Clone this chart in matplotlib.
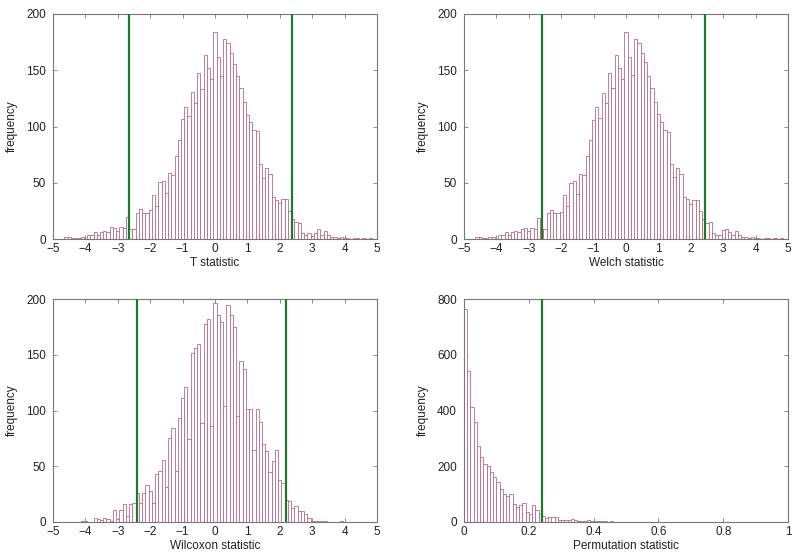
import numpy as np
import matplotlib
matplotlib.use("Agg")
import matplotlib.pyplot as plt

plt.rcParams['font.family'] = ['Liberation Sans', 'DejaVu Sans']

# ---------------- data ----------------
bin_width_stat = 0.1
t_first_center = -4.6
t_counts = [2, 2, 1, 1, 1, 2, 0, 4, 4, 6, 4, 6, 7, 6, 11, 10, 7, 11, 10, 20,
            9, 9, 23, 27, 23, 23, 26, 39, 29, 51, 52, 41, 59, 57, 74, 88, 107, 117, 109, 131,
            121, 148, 133, 164, 152, 142, 184, 162, 145, 178, 174, 165, 156, 145, 134, 122, 110, 104, 97, 96,
            67, 54, 63, 58, 37, 35, 32, 36, 36, 25, 18, 15, 14, 5, 4, 5, 3, 5, 9, 4,
            7, 4, 2, 2, 1, 2, 1, 1, 0, 1, 1, 0, 1, 0, 1]
t_cutoffs = [-2.64, 2.39]

welch_first_center = -4.6
welch_counts = [2, 2, 1, 1, 2, 2, 0, 4, 4, 6, 4, 6, 7, 6, 9, 10, 7, 10, 9, 19,
                9, 9, 23, 26, 23, 23, 24, 39, 29, 50, 52, 40, 58, 57, 74, 88, 106, 117, 108, 130,
                121, 148, 134, 164, 152, 142, 184, 162, 146, 178, 174, 165, 157, 145, 134, 122, 111, 104, 97, 95,
                67, 55, 63, 58, 37, 36, 31, 35, 35, 25, 18, 14, 15, 5, 4, 4, 8, 9, 6, 4,
                7, 4, 2, 2, 1, 2, 1, 1, 0, 1, 1, 0, 1, 0, 1]
welch_cutoffs = [-2.60, 2.43]

wil_first_center = -4.1
wil_counts = [1, 1, 0, 0, 4, 3, 2, 4, 3, 1, 11, 3, 11, 16, 5, 16, 17, 26, 17, 26,
              33, 28, 17, 43, 46, 56, 31, 75, 84, 46, 93, 111, 121, 74, 152, 156, 160, 89, 178, 182,
              86, 196, 186, 179, 104, 195, 186, 175, 95, 144, 137, 101, 101, 65, 101, 90, 70, 64, 45, 55,
              65, 38, 35, 20, 19, 13, 14, 10, 10, 7, 4, 1, 1, 1, 1, 1, 0, 0, 0, 0, 1]
wil_cutoffs = [-2.42, 2.18]

perm_bin_width = 0.01
perm_first_center = 0.005
perm_counts = [764, 543, 413, 358, 273, 233, 209, 202, 178, 161, 143, 118, 99, 94, 101, 65, 55, 60, 68, 37,
               30, 61, 42, 29, 22, 14, 18, 18, 18, 8, 8, 6, 7, 11, 7, 5, 2, 4, 6, 4,
               3, 2, 3, 2, 1, 2, 1, 1, 1, 1]
perm_cutoffs = [0.24]

panels = [
    dict(first=t_first_center, width=bin_width_stat, counts=t_counts, cut=t_cutoffs,
         xlabel='T statistic', xlim=(-5, 5), ylim=(0, 200),
         xticks=list(range(-5, 6)), yticks=[0, 50, 100, 150, 200]),
    dict(first=welch_first_center, width=bin_width_stat, counts=welch_counts, cut=welch_cutoffs,
         xlabel='Welch statistic', xlim=(-5, 5), ylim=(0, 200),
         xticks=list(range(-5, 6)), yticks=[0, 50, 100, 150, 200]),
    dict(first=wil_first_center, width=bin_width_stat, counts=wil_counts, cut=wil_cutoffs,
         xlabel='Wilcoxon statistic', xlim=(-5, 5), ylim=(0, 200),
         xticks=list(range(-5, 6)), yticks=[0, 50, 100, 150, 200]),
    dict(first=perm_first_center, width=perm_bin_width, counts=perm_counts, cut=perm_cutoffs,
         xlabel='Permutation statistic', xlim=(0, 1), ylim=(0, 800),
         xticks=[0, 0.2, 0.4, 0.6, 0.8, 1.0], yticks=[0, 200, 400, 600, 800]),
]

# ---------------- layout ----------------
W, H = 800, 559
fig = plt.figure(figsize=(W / 100, H / 100), dpi=100)
boxes = [(53, 14, 377, 239), (464, 14, 788, 239),
         (53, 299, 377, 522), (464, 299, 788, 522)]

bar_edge = '#b86a84'
green = '#1b7a2c'
spine_col = '#777777'

for p, (x0, y0, x1, y1) in zip(panels, boxes):
    ax = fig.add_axes([x0 / W, 1 - y1 / H, (x1 - x0) / W, (y1 - y0) / H])
    counts = np.array(p['counts'], dtype=float)
    centers = p['first'] + p['width'] * np.arange(len(counts))
    ax.bar(centers, counts, width=p['width'], facecolor='white',
           edgecolor=bar_edge, linewidth=0.6, align='center', zorder=2)
    for c in p['cut']:
        ax.axvline(c, color=green, linewidth=1.6, zorder=3)
    ax.set_xlim(*p['xlim'])
    ax.set_ylim(*p['ylim'])
    ax.set_xticks(p['xticks'])
    ax.set_yticks(p['yticks'])
    if p['xlim'] == (0, 1):
        ax.set_xticklabels(['0', '0.2', '0.4', '0.6', '0.8', '1'])
    else:
        ax.set_xticklabels([str(v).replace('-', '\u2212') for v in p['xticks']])
    ax.tick_params(direction='in', top=True, right=True, length=3, width=0.6,
                   color=spine_col, labelsize=8.5, labelcolor='#222222')
    ax.tick_params(axis='x', pad=3)
    ax.tick_params(axis='y', pad=5)
    for s in ax.spines.values():
        s.set_color(spine_col)
        s.set_linewidth(0.8)
    ax.set_xlabel(p['xlabel'], fontsize=8.5, labelpad=1, color='#222222')
    ax.set_ylabel('frequency', fontsize=8.5, labelpad=6, color='#222222')

fig.savefig('out.png', dpi=100)
